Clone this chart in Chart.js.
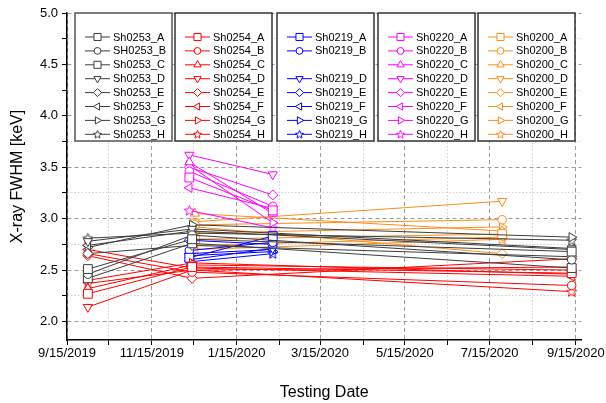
<!DOCTYPE html>
<html>
<head>
<meta charset="utf-8">
<script src="https://cdn.jsdelivr.net/npm/chart.js@4.4.0/dist/chart.umd.min.js"></script>
<style>
  html, body { margin: 0; padding: 0; background: #fff; }
</style>
</head>
<body>
<canvas id="chart" width="606" height="403"></canvas>
<script>
// tick labels
const xTickLabels = ['9/15/2019', '11/15/2019', '1/15/2020', '3/15/2020', '5/15/2020', '7/15/2020', '9/15/2020'];
const yTickLabels = ['2.0', '2.5', '3.0', '3.5', '4.0', '4.5', '5.0'];

// Sh0253
const labels0253 = ['Sh0253_A', 'SH0253_B', 'Sh0253_C', 'Sh0253_D', 'Sh0253_E', 'Sh0253_F', 'Sh0253_G', 'Sh0253_H'];
const dates0253 = ['2019-09-30', '2019-12-14', '2020-09-12'];
const fwhm0253 = [
    [2.51, 2.80, 2.68],
    [2.46, 2.84, 2.60],
    [2.42, 2.76, 2.52],
    [2.78, 2.90, 2.71],
    [2.66, 2.74, 2.63],
    [2.74, 2.88, 2.70],
    [2.72, 2.94, 2.82],
    [2.81, 2.86, 2.79]
];

// Sh0254
const labels0254 = ['Sh0254_A', 'Sh0254_B', 'Sh0254_C', 'Sh0254_D', 'Sh0254_E', 'Sh0254_F', 'Sh0254_G', 'Sh0254_H'];
const dates0254 = ['2019-09-30', '2019-12-14', '2020-09-12'];
const fwhm0254 = [
    [2.27, 2.53, 2.47],
    [2.66, 2.48, 2.35],
    [2.32, 2.55, 2.50],
    [2.14, 2.50, 2.53],
    [2.64, 2.42, 2.61],
    [2.70, 2.52, 2.44],
    [2.40, 2.57, 2.46],
    [2.37, 2.50, 2.29]
];

// Sh0219 (no C)
const labels0219 = ['Sh0219_A', 'Sh0219_B', '', 'Sh0219_D', 'Sh0219_E', 'Sh0219_F', 'Sh0219_G', 'Sh0219_H'];
const dates0219 = ['2019-12-12', '2020-02-10'];
const fwhm0219 = [
    [2.62, 2.83],
    [2.69, 2.77],
    null,
    [2.60, 2.71],
    [2.79, 2.75],
    [2.66, 2.70],
    [2.64, 2.68],
    [2.58, 2.66]
];

// Sh0220
const labels0220 = ['Sh0220_A', 'Sh0220_B', 'Sh0220_C', 'Sh0220_D', 'Sh0220_E', 'Sh0220_F', 'Sh0220_G', 'Sh0220_H'];
const dates0220 = ['2019-12-12', '2020-02-10'];
const fwhm0220 = [
    [3.40, 3.08],
    [3.46, 3.12],
    [3.55, 3.05],
    [3.62, 3.43],
    [3.50, 3.23],
    [3.30, 3.10],
    [3.52, 2.96],
    [3.08, 2.91]
];

// Sh0200
const labels0200 = ['Sh0200_A', 'Sh0200_B', 'Sh0200_C', 'Sh0200_D', 'Sh0200_E', 'Sh0200_F', 'Sh0200_G', 'Sh0200_H'];
const dates0200 = ['2019-12-16', '2020-07-24'];
const fwhm0200 = [
    [2.80, 2.85],
    [2.94, 2.99],
    [3.05, 2.88],
    [2.97, 3.17],
    [2.92, 2.66],
    [2.74, 2.82],
    [2.86, 2.92],
    [2.70, 2.80]
];

const groups = [
    { labels: labels0253, dates: dates0253, values: fwhm0253, color: '#3c3c3c' },
    { labels: labels0254, dates: dates0254, values: fwhm0254, color: '#ff0000' },
    { labels: labels0219, dates: dates0219, values: fwhm0219, color: '#0000ff' },
    { labels: labels0220, dates: dates0220, values: fwhm0220, color: '#ff00ff' },
    { labels: labels0200, dates: dates0200, values: fwhm0200, color: '#ff8c1a' }
];

const FONT = "'Liberation Sans', Arial, sans-serif";

function isoToMs(s) {
    const p = s.split('-').map(Number);
    return Date.UTC(p[0], p[1] - 1, p[2]);
}
function mdyToMs(s) {
    const p = s.split('/').map(Number);
    return Date.UTC(p[2], p[0] - 1, p[1]);
}

function makeStar(color, r) {
    const c = document.createElement('canvas');
    const size = Math.ceil(r * 2 + 4);
    c.width = size; c.height = size;
    const g = c.getContext('2d');
    const cx = size / 2, cy = size / 2 + r * 0.08;
    g.beginPath();
    for (let i = 0; i < 10; i++) {
        const rr = i % 2 === 0 ? r : r * 0.45;
        const a = -Math.PI / 2 + i * Math.PI / 5;
        const px = cx + rr * Math.cos(a), py = cy + rr * Math.sin(a);
        if (i === 0) g.moveTo(px, py); else g.lineTo(px, py);
    }
    g.closePath();
    g.fillStyle = '#fff';
    g.fill();
    g.lineWidth = 1;
    g.strokeStyle = color;
    g.stroke();
    return c;
}

// marker per row A..H: square, circle, triangle, tri down, diamond, tri left, tri right, star
// scale evens out the apparent size of the different shapes
function markerFor(groupIdx, row, color, r) {
    const styles = [
        { pointStyle: 'rect', rotation: 0, scale: 1.25 },
        { pointStyle: 'circle', rotation: 0, scale: 0.85 },
        { pointStyle: 'triangle', rotation: 0, scale: 1.05 },
        { pointStyle: 'triangle', rotation: 180, scale: 1.05 },
        { pointStyle: 'rectRot', rotation: 0, scale: 1.0 },
        { pointStyle: 'triangle', rotation: 270, scale: 1.05 },
        { pointStyle: 'triangle', rotation: 90, scale: 1.05 },
        { pointStyle: makeStar(color, r * 1.05), rotation: 0, scale: 1 }
    ];
    let s = styles[row];
    if (groupIdx === 0 && row === 2) s = styles[0];
    return s;
}

const datasets = [];
groups.forEach(function (grp, gi) {
    const xs = grp.dates.map(isoToMs);
    grp.values.forEach(function (vals, row) {
        if (!vals) return;
        const m = markerFor(gi, row, grp.color, 5);
        datasets.push({
            label: grp.labels[row],
            data: vals.map(function (v, k) { return { x: xs[k], y: v }; }),
            borderColor: grp.color,
            backgroundColor: '#fff',
            borderWidth: 1,
            pointStyle: m.pointStyle,
            rotation: m.rotation,
            pointRadius: 5 * m.scale,
            pointBorderWidth: 1,
            pointBackgroundColor: '#fff',
            pointBorderColor: grp.color,
            tension: 0
        });
    });
});

const xMajor = xTickLabels.map(mdyToMs);
const xTicks = [];
xMajor.forEach(function (v, i) {
    xTicks.push({ value: v, label: xTickLabels[i] });
    if (i < xMajor.length - 1) {
        const d = new Date(v);
        xTicks.push({ value: Date.UTC(d.getUTCFullYear(), d.getUTCMonth() + 1, 15), minor: true });
    }
});
const yTicks = [];
yTickLabels.forEach(function (s, i) {
    const v = parseFloat(s);
    yTicks.push({ value: v, label: s });
    if (i < yTickLabels.length - 1) yTicks.push({ value: v + 0.25, minor: true });
});

const boxLegend = {
    id: 'boxLegend',
    afterDraw(chart) {
        const ctx = chart.ctx;
        const lefts = [75, 175, 277, 378, 478];
        const top = 13, w = 97, h = 128;
        ctx.save();
        groups.forEach(function (grp, gi) {
            const x0 = lefts[gi];
            ctx.fillStyle = '#fff';
            ctx.fillRect(x0, top, w, h);
            ctx.lineWidth = 1.5;
            ctx.strokeStyle = gi === 0 ? '#555' : '#333';
            ctx.strokeRect(x0, top, w, h);
            grp.labels.forEach(function (lab, row) {
                if (!lab) return;
                const y = 37 + row * 13.9;
                ctx.strokeStyle = grp.color;
                ctx.lineWidth = 1;
                ctx.beginPath();
                ctx.moveTo(x0 + 10, y);
                ctx.lineTo(x0 + 35, y);
                ctx.stroke();
                const m = markerFor(gi, row, grp.color, 4);
                ctx.fillStyle = '#fff';
                ctx.strokeStyle = grp.color;
                Chart.helpers.drawPoint(ctx, {
                    pointStyle: m.pointStyle, rotation: m.rotation, radius: 4 * m.scale, borderWidth: 1
                }, x0 + 22.5, y);
                ctx.fillStyle = '#000';
                ctx.font = '11px ' + FONT;
                ctx.textBaseline = 'middle';
                ctx.textAlign = 'left';
                ctx.fillText(lab, x0 + 38, y + 0.5);
            });
        });
        ctx.restore();
    }
};

function gridColor(ctx) {
    return ctx.tick && ctx.tick.minor ? '#d0d0d0' : '#9a9a9a';
}
function gridDash(ctx) {
    return ctx.tick && ctx.tick.minor ? [1.5, 2] : [4, 3];
}

new Chart(document.getElementById('chart').getContext('2d'), {
    type: 'line',
    data: { datasets: datasets },
    options: {
        responsive: false,
        animation: false,
        layout: { padding: { left: 0, right: 23, top: 13, bottom: 0 } },
        plugins: { legend: { display: false }, tooltip: { enabled: false } },
        scales: {
            x: {
                type: 'linear',
                min: Date.UTC(2019, 8, 15),
                max: Date.UTC(2020, 8, 19),
                afterBuildTicks: function (scale) { scale.ticks = xTicks.map(function (t) { return Object.assign({}, t); }); },
                afterFit: function (scale) { scale.height = 63; },
                ticks: {
                    autoSkip: false,
                    maxRotation: 0,
                    padding: 1,
                    color: '#000',
                    font: { family: FONT, size: 13 },
                    callback: function (v, i) { return xTicks[i] && !xTicks[i].minor ? xTicks[i].label : ''; }
                },
                grid: { color: gridColor, lineWidth: 1, tickLength: 5, tickColor: '#000', drawTicks: true },
                border: { color: '#000', width: 1.5, dash: gridDash },
                title: { display: true, text: 'Testing Date', color: '#000', font: { family: FONT, size: 16 }, padding: { top: 4, bottom: 1 } }
            },
            y: {
                type: 'linear',
                min: 1.82,
                max: 5.0,
                afterBuildTicks: function (scale) { scale.ticks = yTicks.map(function (t) { return Object.assign({}, t); }); },
                afterFit: function (scale) { scale.width = 67; },
                ticks: {
                    padding: 4,
                    color: '#000',
                    font: { family: FONT, size: 13 },
                    callback: function (v, i) { return yTicks[i] && !yTicks[i].minor ? yTicks[i].label : ''; }
                },
                grid: { color: gridColor, lineWidth: 1, tickLength: 5, tickColor: '#000', drawTicks: true },
                border: { color: '#000', width: 1.5, dash: gridDash },
                title: { display: true, text: 'X-ray FWHM [keV]', color: '#000', font: { family: FONT, size: 16 }, padding: { top: 8, bottom: 4 } }
            }
        }
    },
    plugins: [boxLegend]
});
</script>
</body>
</html>
